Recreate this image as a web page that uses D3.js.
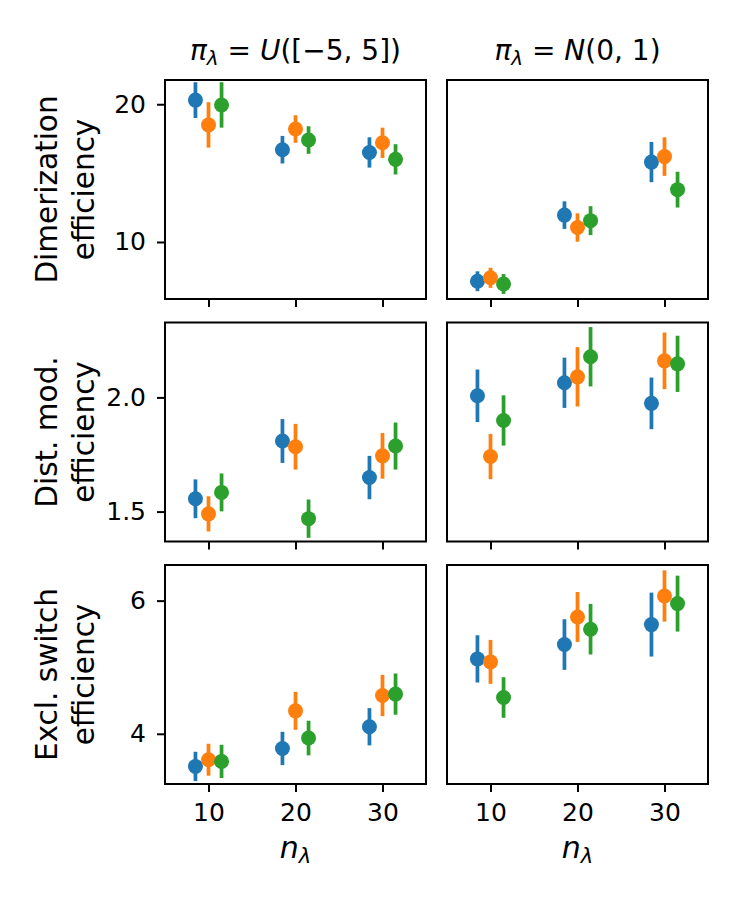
<!DOCTYPE html>
<html>
<head>
<meta charset="utf-8">
<script src="https://cdn.jsdelivr.net/npm/d3@7"></script>
<style>
  html, body { margin: 0; padding: 0; background: #fff; }
  svg text { font-family: "DejaVu Sans", sans-serif; fill: #000; }
</style>
</head>
<body>
<div id="chart"></div>
<script>
// 3x2 grid of error-bar panels: efficiency vs n_lambda for two priors.
const nValues = [10, 20, 30];
const seriesOffsets = [-1.5, 0, 1.5];
const seriesColors = ['#1f77b4', '#ff7f0e', '#2ca02c'];

const rowLabels = [
    ['Dimerization', 'efficiency'],
    ['Dist. mod.', 'efficiency'],
    ['Excl. switch', 'efficiency']
];
const yTicks = [[10, 20], [1.5, 2.0], [4, 6]];
const yTickFormats = ['d', '.1f', 'd'];
const yLimits = [[5.86, 21.76], [1.369, 2.328], [3.246, 6.535]];

// means / errors per series (blue, orange, green), one value per n
const dimerUniformMean = [[20.3, 16.7, 16.5], [18.5, 18.2, 17.2], [19.95, 17.4, 16.0]];
const dimerUniformErr = [[1.3, 1.0, 1.1], [1.65, 1.0, 1.1], [1.65, 1.0, 1.1]];
const dimerNormalMean = [[7.15, 11.95, 15.8], [7.4, 11.05, 16.2], [6.95, 11.55, 13.8]];
const dimerNormalErr = [[0.72, 1.0, 1.46], [0.73, 1.03, 1.4], [0.72, 1.05, 1.3]];

const distUniformMean = [[1.556, 1.809, 1.649], [1.49, 1.784, 1.744], [1.584, 1.469, 1.787]];
const distUniformErr = [[0.085, 0.096, 0.095], [0.077, 0.10, 0.10], [0.083, 0.084, 0.103]];
const distNormalMean = [[2.007, 2.064, 1.974], [1.741, 2.09, 2.16], [1.899, 2.178, 2.147]];
const distNormalErr = [[0.115, 0.11, 0.113], [0.099, 0.13, 0.124], [0.11, 0.13, 0.123]];

const exclUniformMean = [[3.51, 3.78, 4.106], [3.61, 4.345, 4.575], [3.585, 3.936, 4.596]];
const exclUniformErr = [[0.22, 0.25, 0.28], [0.24, 0.285, 0.31], [0.25, 0.26, 0.31]];
const exclNormalMean = [[5.125, 5.34, 5.64], [5.08, 5.755, 6.07], [4.545, 5.571, 5.955]];
const exclNormalErr = [[0.355, 0.38, 0.48], [0.33, 0.375, 0.385], [0.305, 0.38, 0.42]];

const panels = [
    [[dimerUniformMean, dimerUniformErr], [dimerNormalMean, dimerNormalErr]],
    [[distUniformMean, distUniformErr], [distNormalMean, distNormalErr]],
    [[exclUniformMean, exclUniformErr], [exclNormalMean, exclNormalErr]]
];

const width = 750, height = 900;
const colX = [165, 447];
const rowY = [80, 322.5, 565];
const pw = 261, ph = 219;

const svg = d3.select('#chart').append('svg')
    .attr('width', width)
    .attr('height', height);

const x = d3.scaleLinear().domain([5, 35]).range([0, pw]);

panels.forEach((row, ri) => {
    const y = d3.scaleLinear().domain(yLimits[ri]).range([ph, 0]);
    row.forEach(([means, errs], ci) => {
        const g = svg.append('g').attr('transform', `translate(${colX[ci]},${rowY[ri]})`);

        // x axis ticks (labels only on bottom row)
        const xAxis = d3.axisBottom(x).tickValues(nValues).tickSize(8).tickPadding(11)
            .tickFormat(ri === 2 ? d3.format('d') : () => '');
        const gx = g.append('g').attr('transform', `translate(0,${ph})`).call(xAxis);
        gx.select('.domain').remove();
        gx.selectAll('line').attr('stroke', '#000').attr('stroke-width', 2);
        gx.selectAll('text').attr('font-size', 25).attr('font-family', 'DejaVu Sans');

        // y axis ticks only on left column
        if (ci === 0) {
            const yAxis = d3.axisLeft(y).tickValues(yTicks[ri]).tickSize(8).tickPadding(11)
                .tickFormat(d3.format(yTickFormats[ri]));
            const gy = g.append('g').call(yAxis);
            gy.select('.domain').remove();
            gy.selectAll('line').attr('stroke', '#000').attr('stroke-width', 2);
            gy.selectAll('text').attr('font-size', 25).attr('font-family', 'DejaVu Sans');
        }

        // error bars then markers, series by series
        means.forEach((vals, si) => {
            const pts = vals.map((v, k) => ({ n: nValues[k] + seriesOffsets[si], v, e: errs[si][k] }));
            const sg = g.append('g');
            sg.selectAll('line.err')
                .data(pts)
                .join('line')
                .attr('class', 'err')
                .attr('x1', d => x(d.n)).attr('x2', d => x(d.n))
                .attr('y1', d => y(d.v - d.e)).attr('y2', d => y(d.v + d.e))
                .attr('stroke', seriesColors[si])
                .attr('stroke-width', 3.75);
            sg.selectAll('circle')
                .data(pts)
                .join('circle')
                .attr('cx', d => x(d.n))
                .attr('cy', d => y(d.v))
                .attr('r', 7.5)
                .attr('fill', seriesColors[si]);
        });

        // frame
        g.append('rect')
            .attr('width', pw).attr('height', ph)
            .attr('fill', 'none')
            .attr('stroke', '#000')
            .attr('stroke-width', 2);
    });

    // row label, two lines rotated
    const lbl = svg.append('text')
        .attr('transform', `translate(0,${rowY[ri] + ph / 2}) rotate(-90)`)
        .attr('text-anchor', 'middle')
        .attr('font-size', 29.5);
    lbl.append('tspan').attr('x', 0).attr('y', 57).text(rowLabels[ri][0]);
    lbl.append('tspan').attr('x', 0).attr('y', 94).text(rowLabels[ri][1]);
});

// column titles (math-style)
function mathTitle(cx, parts) {
    const t = svg.append('text')
        .attr('x', cx).attr('y', 60)
        .attr('text-anchor', 'middle')
        .attr('font-size', 28);
    parts.forEach(p => {
        const s = t.append('tspan').text(p.t);
        if (p.i) s.attr('font-style', 'italic');
        if (p.sub) s.attr('font-size', 20).attr('dy', 5);
        if (p.up) s.attr('dy', -5);
    });
}
mathTitle(colX[0] + pw / 2, [
    { t: 'π', i: true }, { t: 'λ', i: true, sub: true },
    { t: ' = ', up: true }, { t: 'U', i: true }, { t: '([−5, 5])' }
]);
mathTitle(colX[1] + pw / 2, [
    { t: 'π', i: true }, { t: 'λ', i: true, sub: true },
    { t: ' = ', up: true }, { t: 'N', i: true }, { t: '(0, 1)' }
]);

// x labels
colX.forEach(cx => {
    const t = svg.append('text')
        .attr('x', cx + x(20)).attr('y', 858)
        .attr('text-anchor', 'middle')
        .attr('font-size', 30);
    t.append('tspan').attr('font-style', 'italic').text('n');
    t.append('tspan').attr('font-style', 'italic').attr('font-size', 21).attr('dy', 5).text('λ');
});
</script>
</body>
</html>
